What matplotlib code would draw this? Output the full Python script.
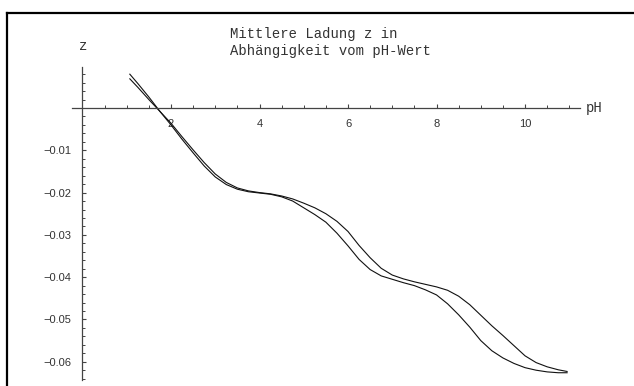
import matplotlib
matplotlib.use("Agg")
import matplotlib.pyplot as plt
from matplotlib.lines import Line2D

# ---- data ----
ph_a = [1.07, 1.25, 1.5, 1.75, 2.0, 2.25, 2.5, 2.75, 3.0, 3.25, 3.5, 3.75, 4.0,
        4.25, 4.5, 4.75, 5.0, 5.25, 5.5, 5.75, 6.0, 6.25, 6.5, 6.75, 7.0, 7.25,
        7.5, 7.75, 8.0, 8.25, 8.5, 8.75, 9.0, 9.25, 9.5, 9.75, 10.0, 10.25, 10.5,
        10.75, 10.95]
z_a = [0.0069, 0.0049, 0.0020, -0.0008, -0.0036, -0.0068, -0.0099, -0.0129,
       -0.0156, -0.0176, -0.0189, -0.0196, -0.0200, -0.0203, -0.0208, -0.0215,
       -0.0225, -0.0236, -0.0250, -0.0268, -0.0292, -0.0325, -0.0354, -0.0379,
       -0.0395, -0.0404, -0.0411, -0.0417, -0.0423, -0.0431, -0.0445, -0.0465,
       -0.0490, -0.0515, -0.0538, -0.0562, -0.0586, -0.0602, -0.0612, -0.0619,
       -0.0623]

ph_b = [1.07, 1.25, 1.5, 1.75, 2.0, 2.25, 2.5, 2.75, 3.0, 3.25, 3.5, 3.75, 4.0,
        4.25, 4.5, 4.75, 5.0, 5.25, 5.5, 5.75, 6.0, 6.25, 6.5, 6.75, 7.0, 7.25,
        7.5, 7.75, 8.0, 8.25, 8.5, 8.75, 9.0, 9.25, 9.5, 9.75, 10.0, 10.25, 10.5,
        10.75, 10.95]
z_b = [0.0080, 0.0058, 0.0026, -0.0008, -0.0040, -0.0074, -0.0106, -0.0137,
       -0.0163, -0.0181, -0.0192, -0.0198, -0.0201, -0.0204, -0.0210, -0.0220,
       -0.0236, -0.0252, -0.0270, -0.0296, -0.0326, -0.0358, -0.0382, -0.0397,
       -0.0405, -0.0413, -0.0420, -0.0430, -0.0442, -0.0463, -0.0489, -0.0518,
       -0.0550, -0.0574, -0.0591, -0.0604, -0.0614, -0.0620, -0.0624, -0.0626,
       -0.0626]

x_major = [2, 4, 6, 8, 10]
x_major_labels = ["2", "4", "6", "8", "10"]
y_major = [-0.01, -0.02, -0.03, -0.04, -0.05, -0.06]
y_major_labels = ["\u22120.01", "\u22120.02", "\u22120.03", "\u22120.04", "\u22120.05", "\u22120.06"]

title_lines = ["Mittlere Ladung z in", "Abhängigkeit vom pH-Wert"]
x_label = "pH"
y_label = "z"

# ---- figure ----
W, H = 634, 386
fig = plt.figure(figsize=(W / 100, H / 100), dpi=100)
fig.patch.set_facecolor("white")

ax = fig.add_axes([69.2 / W, 1 / H, (587 - 69.2) / W, (385 - 61.5) / H])
ax.set_xlim(-0.3, 11.4)
ax.set_ylim(-0.0655, 0.011)
ax.set_facecolor("none")

for s in ["top", "right"]:
    ax.spines[s].set_visible(False)
axis_col = "#444444"
ax.spines["left"].set_position(("data", 0))
ax.spines["bottom"].set_position(("data", 0))
ax.spines["left"].set_bounds(-0.0643, 0.0097)
ax.spines["bottom"].set_bounds(-0.24, 11.25)
for s in ["left", "bottom"]:
    ax.spines[s].set_color(axis_col)
    ax.spines[s].set_linewidth(0.9)

ax.plot(ph_a, z_a, color="#111111", lw=0.8)
ax.plot(ph_b, z_b, color="#111111", lw=0.8)

ax.set_xticks(x_major)
ax.set_xticklabels(x_major_labels)
ax.set_xticks([v * 0.5 for v in range(1, 23) if v % 4 != 0], minor=True)
ax.set_yticks(y_major)
ax.set_yticklabels(y_major_labels)
ax.set_yticks([v * 0.002 for v in range(-32, 5) if v != 0 and v % 5 != 0], minor=True)

for lab in ax.get_xticklabels() + ax.get_yticklabels():
    lab.set_fontfamily("Liberation Sans")
    lab.set_fontsize(8)
    lab.set_color("#333333")

ax.tick_params(axis="both", which="major", direction="in", length=3.2, width=0.8,
               color=axis_col)
ax.tick_params(axis="both", which="minor", direction="in", length=2.0, width=0.7,
               color=axis_col)
ax.tick_params(axis="x", which="major", pad=8)
ax.tick_params(axis="y", which="major", pad=8)

mono = dict(family="Liberation Mono", size=10, color="#333333")
fig.text(230 / W, 1 - 34 / H, title_lines[0], ha="left", va="center", **mono)
fig.text(230 / W, 1 - 51.5 / H, title_lines[1], ha="left", va="center", **mono)
fig.text(586 / W, 1 - 108 / H, x_label, ha="left", va="center", **mono)
fig.text(83 / W, 1 - 46 / H, y_label, ha="center", va="center", **mono)

# frame lines (top and left) of the original picture
fig.add_artist(Line2D([7 / W, 1], [1 - 13 / H, 1 - 13 / H], color="black", lw=1.6,
                      transform=fig.transFigure))
fig.add_artist(Line2D([7 / W, 7 / W], [0, 1 - 13 / H], color="black", lw=1.6,
                      transform=fig.transFigure))

fig.savefig("out.png", dpi=100)
